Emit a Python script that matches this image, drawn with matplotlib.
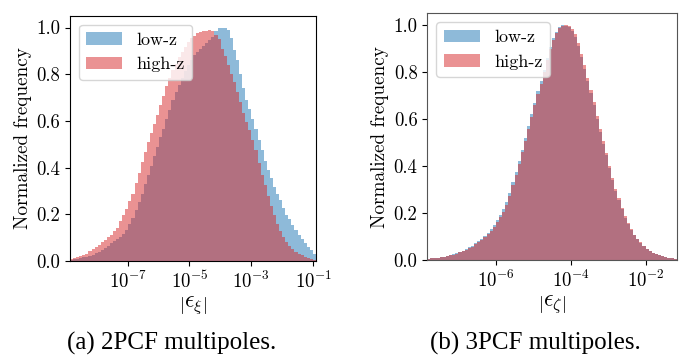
import numpy as np
import matplotlib
matplotlib.use("Agg")
import matplotlib.pyplot as plt
from matplotlib.ticker import FixedLocator, NullLocator

plt.rcParams['font.family'] = 'serif'
plt.rcParams['font.serif'] = ['cmr10']
plt.rcParams['mathtext.fontset'] = 'cm'
plt.rcParams['axes.formatter.use_mathtext'] = True
plt.rcParams['axes.unicode_minus'] = False

# 2PCF multipoles: histogram range (log10) and normalized bin heights
xi_range = (-8.86, -0.913)
xi_low = [0.005, 0.007, 0.009, 0.012, 0.015, 0.018, 0.022, 0.027, 0.033, 0.040,
          0.047, 0.056, 0.065, 0.075, 0.085, 0.094, 0.103, 0.117, 0.133, 0.158,
          0.186, 0.218, 0.251, 0.287, 0.330, 0.368, 0.409, 0.449, 0.489, 0.529,
          0.567, 0.607, 0.648, 0.688, 0.722, 0.754, 0.785, 0.815, 0.838, 0.862,
          0.881, 0.894, 0.908, 0.921, 0.935, 0.948, 0.961, 0.985, 0.998, 1.000,
          1.000, 0.990, 0.955, 0.905, 0.860, 0.800, 0.740, 0.690, 0.650, 0.610,
          0.565, 0.520, 0.475, 0.430, 0.390, 0.355, 0.318, 0.286, 0.260, 0.228,
          0.198, 0.178, 0.155, 0.133, 0.113, 0.095, 0.077, 0.062, 0.046, 0.032]
xi_high = [0.008, 0.011, 0.015, 0.020, 0.026, 0.032, 0.042, 0.052, 0.060, 0.068,
           0.080, 0.090, 0.102, 0.113, 0.127, 0.142, 0.170, 0.195, 0.224, 0.257,
           0.288, 0.333, 0.378, 0.425, 0.467, 0.509, 0.548, 0.585, 0.627, 0.670,
           0.708, 0.748, 0.783, 0.818, 0.845, 0.873, 0.895, 0.918, 0.937, 0.955,
           0.965, 0.976, 0.980, 0.984, 0.987, 0.990, 0.983, 0.968, 0.950, 0.910,
           0.878, 0.840, 0.800, 0.765, 0.725, 0.680, 0.635, 0.595, 0.560, 0.520,
           0.475, 0.420, 0.370, 0.325, 0.278, 0.235, 0.195, 0.160, 0.130, 0.103,
           0.082, 0.066, 0.052, 0.040, 0.030, 0.024, 0.017, 0.012, 0.007, 0.005]
xi_ticks = [1e-7, 1e-5, 1e-3, 1e-1]

# 3PCF multipoles
zeta_range = (-7.82, -1.18)
zeta_low = [0.006, 0.007, 0.008, 0.010, 0.012, 0.014, 0.017, 0.020, 0.024, 0.029,
            0.034, 0.040, 0.046, 0.053, 0.060, 0.070, 0.080, 0.090, 0.102, 0.116,
            0.130, 0.148, 0.168, 0.192, 0.215, 0.245, 0.285, 0.330, 0.375, 0.420,
            0.470, 0.520, 0.570, 0.620, 0.670, 0.720, 0.760, 0.810, 0.860, 0.905,
            0.945, 0.970, 0.990, 1.000, 0.998, 0.990, 0.975, 0.950, 0.910, 0.865,
            0.815, 0.760, 0.710, 0.660, 0.600, 0.545, 0.495, 0.445, 0.390, 0.340,
            0.295, 0.255, 0.215, 0.180, 0.152, 0.127, 0.105, 0.088, 0.073, 0.058,
            0.047, 0.038, 0.031, 0.025, 0.020, 0.016, 0.012, 0.010, 0.008, 0.006]
zeta_high = [0.006, 0.007, 0.008, 0.009, 0.011, 0.013, 0.016, 0.019, 0.022, 0.027,
             0.032, 0.037, 0.043, 0.050, 0.057, 0.066, 0.076, 0.086, 0.097, 0.110,
             0.124, 0.141, 0.160, 0.183, 0.206, 0.235, 0.274, 0.318, 0.363, 0.408,
             0.458, 0.508, 0.558, 0.608, 0.658, 0.708, 0.750, 0.800, 0.850, 0.896,
             0.938, 0.965, 0.987, 0.998, 1.000, 0.994, 0.982, 0.960, 0.922, 0.878,
             0.828, 0.773, 0.722, 0.672, 0.612, 0.557, 0.506, 0.455, 0.400, 0.349,
             0.303, 0.262, 0.221, 0.186, 0.157, 0.131, 0.108, 0.090, 0.075, 0.059,
             0.048, 0.038, 0.031, 0.025, 0.020, 0.015, 0.012, 0.009, 0.007, 0.006]
zeta_ticks = [1e-6, 1e-4, 1e-2]

labels = ['low-z', 'high-z']
colors = ['tab:blue', 'tab:red']


def draw_panel(ax, rng, low, high, ticks, xlabel):
    edges = np.logspace(rng[0], rng[1], len(low) + 1)
    for vals, c, lab in zip([low, high], colors, labels):
        ax.stairs(vals, edges, fill=True, color=c, alpha=0.5, linewidth=1.0, label=lab)
    ax.set_xscale('log')
    ax.set_xlim(edges[0], edges[-1])
    ax.set_ylim(0, 1.05)
    ax.xaxis.set_major_locator(FixedLocator(ticks))
    ax.xaxis.set_minor_locator(NullLocator())
    ax.set_yticks([0.0, 0.2, 0.4, 0.6, 0.8, 1.0])
    ax.set_yticklabels(['0.0', '0.2', '0.4', '0.6', '0.8', '1.0'])
    ax.tick_params(labelsize=13.5)
    ax.set_xlabel(xlabel, fontsize=17, labelpad=2)
    ax.set_ylabel('Normalized frequency', fontsize=13.8, labelpad=3)
    ax.legend(loc='upper left', fontsize=13, handlelength=2.0)


fig = plt.figure(figsize=(6.87, 3.6), dpi=100)
ax1 = fig.add_axes([0.1019, 0.275, 0.358, 0.681])
ax2 = fig.add_axes([0.622, 0.278, 0.363, 0.685])

draw_panel(ax1, xi_range, xi_low, xi_high, xi_ticks, r'$\left|\epsilon_\xi\right|$')
draw_panel(ax2, zeta_range, zeta_low, zeta_high, zeta_ticks, r'$\left|\epsilon_\zeta\right|$')
for sp in ax2.spines.values():
    sp.set_edgecolor('#555555')

fig.text(0.25, 0.03, '(a) 2PCF multipoles.', ha='center', fontsize=18,
         fontfamily='Liberation Serif')
fig.text(0.78, 0.03, '(b) 3PCF multipoles.', ha='center', fontsize=18,
         fontfamily='Liberation Serif')

fig.savefig('out.png', dpi=100)
